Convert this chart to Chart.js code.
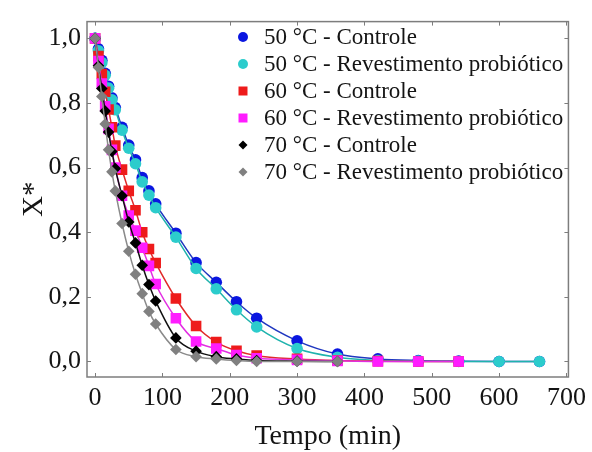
<!DOCTYPE html>
<html>
<head>
<meta charset="utf-8">
<script src="https://cdn.jsdelivr.net/npm/chart.js@4.4.1/dist/chart.umd.min.js"></script>
<style>
  html, body { margin: 0; padding: 0; background: #fff; }
  #wrap { width: 592px; height: 452px; }
</style>
</head>
<body>
<div id="wrap"><canvas id="dryingChart"></canvas></div>
<script>
// Sampling times (min)
const t50 = [0, 5, 10, 15, 20, 25, 30, 40, 50, 60, 70, 80, 90, 120, 150, 180, 210, 240, 300, 360, 420, 480, 540, 600, 660];
const t60 = [0, 5, 10, 15, 20, 25, 30, 40, 50, 60, 70, 80, 90, 120, 150, 180, 210, 240, 300, 360, 420, 480, 540];
const t70 = [0, 5, 10, 15, 20, 25, 30, 40, 50, 60, 70, 80, 90, 120, 150, 180, 210, 240, 300, 360];

// Moisture ratio X*
const x50Controle = [1.0, 0.968, 0.932, 0.892, 0.852, 0.816, 0.786, 0.725, 0.670, 0.624, 0.569, 0.528, 0.488, 0.397, 0.306, 0.245, 0.185, 0.134, 0.064, 0.023, 0.008, 0.003, 0.001, 0.0, 0.0];
const x50Revest   = [1.0, 0.962, 0.925, 0.886, 0.846, 0.810, 0.779, 0.716, 0.660, 0.612, 0.556, 0.515, 0.476, 0.385, 0.288, 0.225, 0.160, 0.107, 0.040, 0.013, 0.003, 0.001, 0.0, 0.0, 0.0];
const x60Controle = [1.0, 0.945, 0.890, 0.835, 0.780, 0.725, 0.668, 0.594, 0.528, 0.468, 0.400, 0.348, 0.305, 0.195, 0.110, 0.060, 0.033, 0.018, 0.008, 0.003, 0.001, 0.0, 0.0];
const x60Revest   = [1.0, 0.930, 0.860, 0.790, 0.720, 0.655, 0.600, 0.513, 0.452, 0.405, 0.352, 0.296, 0.240, 0.134, 0.062, 0.040, 0.020, 0.010, 0.005, 0.002, 0.0, 0.0, 0.0];
const x70Controle = [1.0, 0.915, 0.845, 0.775, 0.710, 0.650, 0.597, 0.513, 0.432, 0.367, 0.298, 0.238, 0.187, 0.073, 0.032, 0.015, 0.008, 0.003, 0.001, 0.0];
const x70Revest   = [1.0, 0.910, 0.820, 0.735, 0.655, 0.587, 0.528, 0.427, 0.341, 0.270, 0.210, 0.155, 0.116, 0.037, 0.015, 0.008, 0.003, 0.0, 0.0, 0.0];

const seriesLabels = [
  '50 °C - Controle',
  '50 °C - Revestimento probiótico',
  '60 °C - Controle',
  '60 °C - Revestimento probiótico',
  '70 °C - Controle',
  '70 °C - Revestimento probiótico'
];

const xTicks = [0, 100, 200, 300, 400, 500, 600, 700];
const yTicks = [0.0, 0.2, 0.4, 0.6, 0.8, 1.0];
const yTickLabels = ['0,0', '0,2', '0,4', '0,6', '0,8', '1,0'];

const SERIF = "'Liberation Serif', 'Times New Roman', serif";

const toPoints = (ts, vs) => ts.map((t, i) => ({ x: t, y: vs[i] }));

// later series are painted on top of earlier ones
function series(idx, ts, vs, fill, line, style, radius, legendRadius) {
  return {
    label: seriesLabels[idx],
    order: seriesLabels.length - idx,
    data: toPoints(ts, vs),
    showLine: true,
    cubicInterpolationMode: 'monotone',
    borderColor: line,
    borderWidth: 1.5,
    pointStyle: style,
    pointRadius: radius,
    pointHoverRadius: radius,
    pointBackgroundColor: fill,
    pointBorderWidth: 0,
    legendRadius
  };
}

// square/diamond/circle markers for the inset legend
function marker(ctx, style, x, y, r) {
  ctx.beginPath();
  if (style === 'rect') {
    ctx.rect(x - r, y - r, 2 * r, 2 * r);
  } else if (style === 'rectRot') {
    ctx.moveTo(x - r, y); ctx.lineTo(x, y - r); ctx.lineTo(x + r, y); ctx.lineTo(x, y + r);
    ctx.closePath();
  } else {
    ctx.arc(x, y, r, 0, Math.PI * 2);
  }
  ctx.fill();
}

const frameTicks = {
  id: 'frameTicks',
  afterDatasetsDraw(chart) {
    const { ctx, chartArea: a, scales: { x, y } } = chart;
    ctx.save();
    ctx.strokeStyle = '#7d7d7d';
    ctx.lineWidth = 1.5;
    ctx.strokeRect(a.left, a.top, a.right - a.left, a.bottom - a.top);
    ctx.lineWidth = 1;
    ctx.beginPath();
    x.ticks.forEach(t => {
      const px = Math.round(x.getPixelForValue(t.value)) + 0.5;
      ctx.moveTo(px, a.bottom); ctx.lineTo(px, a.bottom - 4);
      ctx.moveTo(px, a.top); ctx.lineTo(px, a.top + 4);
    });
    y.ticks.forEach(t => {
      const py = Math.round(y.getPixelForValue(t.value)) + 0.5;
      ctx.moveTo(a.left, py); ctx.lineTo(a.left + 4, py);
      ctx.moveTo(a.right, py); ctx.lineTo(a.right - 4, py);
    });
    ctx.stroke();
    ctx.restore();
  }
};

const insetLegend = {
  id: 'insetLegend',
  afterDraw(chart) {
    const { ctx } = chart;
    ctx.save();
    ctx.font = '23px ' + SERIF;
    ctx.textBaseline = 'middle';
    ctx.textAlign = 'left';
    const items = chart.data.datasets.slice().sort((a, b) => b.order - a.order);
    items.forEach((ds, i) => {
      const rowY = 37 + i * 27;
      ctx.fillStyle = ds.pointBackgroundColor;
      marker(ctx, ds.pointStyle, 243, rowY, ds.legendRadius);
      ctx.fillStyle = '#141414';
      ctx.fillText(ds.label, 264, rowY + 1);
    });
    ctx.restore();
  }
};

new Chart(document.getElementById('dryingChart'), {
  type: 'scatter',
  data: {
    datasets: [
      series(0, t50, x50Controle, '#0a16e0', '#2038c0', 'circle', 5.8, 5),
      series(1, t50, x50Revest, '#2ccccc', '#1fb3ad', 'circle', 5.8, 5),
      series(2, t60, x60Controle, '#ee1b1b', '#e12a2a', 'rect', 7.5, 4.5),
      series(3, t60, x60Revest, '#ff1cff', '#e22ee2', 'rect', 7.5, 4.5),
      series(4, t70, x70Controle, '#000000', '#111111', 'rectRot', 5.8, 4.5),
      series(5, t70, x70Revest, '#808080', '#8a8a8a', 'rectRot', 5.8, 4.5)
    ]
  },
  options: {
    responsive: true,
    maintainAspectRatio: false,
    animation: false,
    layout: { padding: { top: 14, right: 22, left: 0, bottom: 0 } },
    plugins: {
      legend: { display: false },
      tooltip: { enabled: false }
    },
    scales: {
      x: {
        type: 'linear',
        min: -12,
        max: 703,
        grid: { display: false, drawTicks: false },
        border: { display: false },
        afterBuildTicks: scale => { scale.ticks = xTicks.map(v => ({ value: v })); },
        afterFit: scale => { scale.height = 75; },
        ticks: {
          padding: 6,
          color: '#141414',
          font: { family: SERIF, size: 26 },
          callback: value => String(value)
        },
        title: {
          display: true,
          text: 'Tempo (min)',
          color: '#141414',
          font: { family: SERIF, size: 28, lineHeight: 1 },
          padding: { top: 0, bottom: 1 }
        }
      },
      y: {
        type: 'linear',
        min: -0.048,
        max: 1.052,
        grid: { display: false, drawTicks: false },
        border: { display: false },
        afterBuildTicks: scale => { scale.ticks = yTicks.map(v => ({ value: v })); },
        afterFit: scale => { scale.width = 87; },
        ticks: {
          padding: 6,
          color: '#141414',
          font: { family: SERIF, size: 26 },
          callback: (value, index) => yTickLabels[index]
        },
        title: {
          display: true,
          text: 'X*',
          color: '#141414',
          font: { family: SERIF, size: 29, lineHeight: 1 },
          padding: { top: 20, bottom: 0 }
        }
      }
    }
  },
  plugins: [frameTicks, insetLegend]
});
</script>
</body>
</html>
